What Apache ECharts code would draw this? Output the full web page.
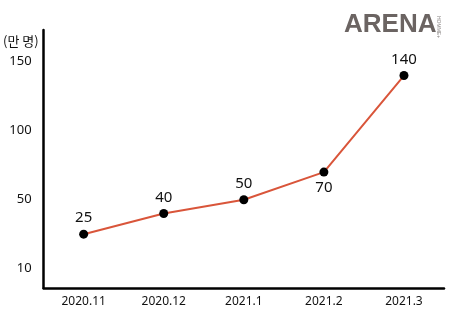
<!DOCTYPE html>
<html>
<head>
<meta charset="utf-8">
<script src="https://cdn.jsdelivr.net/npm/echarts@6/dist/echarts.min.js"></script>
<style>html,body{margin:0;padding:0;background:#fff}#c{width:450px;height:320px}</style>
</head>
<body>
<div id="c"></div>
<script>
const categories = ['2020.11', '2020.12', '2021.1', '2021.2', '2021.3'];
const values = [25, 40, 50, 70, 140];
const labelPositions = ['top', 'top', 'top', 'bottom', 'top'];
const yTickValues = [0, 50, 100, 150];
const yTickLabels = ['10', '50', '100', '150'];
const yUnit = '(만 명)';

const FONT = "'Noto Sans', 'Noto Sans CJK KR', sans-serif";
const chart = echarts.init(document.getElementById('c'));
chart.setOption({
  animation: false,
  grid: { left: 42, right: 6, top: 30, bottom: 32 },
  xAxis: {
    type: 'category',
    data: categories,
    boundaryGap: true,
    axisLine: { onZero: false, lineStyle: { color: '#000', width: 2.5 } },
    axisTick: { show: false },
    axisLabel: { color: '#111', fontSize: 12, margin: 8, fontFamily: FONT }
  },
  yAxis: {
    type: 'value',
    min: -14,
    max: 173,
    name: yUnit,
    nameLocation: 'end',
    nameGap: -18,
    nameTextStyle: { color: '#111', fontSize: 13, fontFamily: "'Noto Sans CJK KR', sans-serif", align: 'right', padding: [0, 5, 0, 0] },
    axisLine: { show: true, onZero: false, lineStyle: { color: '#000', width: 2.5 } },
    axisTick: { show: false },
    splitLine: { show: false },
    axisLabel: {
      customValues: yTickValues,
      color: '#111', fontSize: 13, margin: 12, fontFamily: FONT,
      formatter: function (v) { const i = yTickValues.indexOf(v); return i >= 0 ? yTickLabels[i] : ''; }
    }
  },
  series: [{
    type: 'line',
    data: values.map((v, i) => ({ value: v, label: { position: labelPositions[i] } })),
    symbol: 'circle',
    symbolSize: 9,
    itemStyle: { color: '#000' },
    lineStyle: { color: '#d9553a', width: 2 },
    label: { show: true, color: '#111', fontSize: 15, fontFamily: FONT, distance: 4 }
  }],
  graphic: [
    { type: 'text', left: 344, top: 12, style: { text: 'ARENA', fontSize: 26, fontWeight: 'bold', fill: '#6b6462', fontFamily: "'Liberation Sans', Arial, sans-serif" } },
    { type: 'text', x: 441, y: 16, rotation: -Math.PI / 2, style: { text: 'HOMME+', fontSize: 5, fill: '#8a8584', fontFamily: "'Liberation Sans', sans-serif" } }
  ]
});
</script>
</body>
</html>
